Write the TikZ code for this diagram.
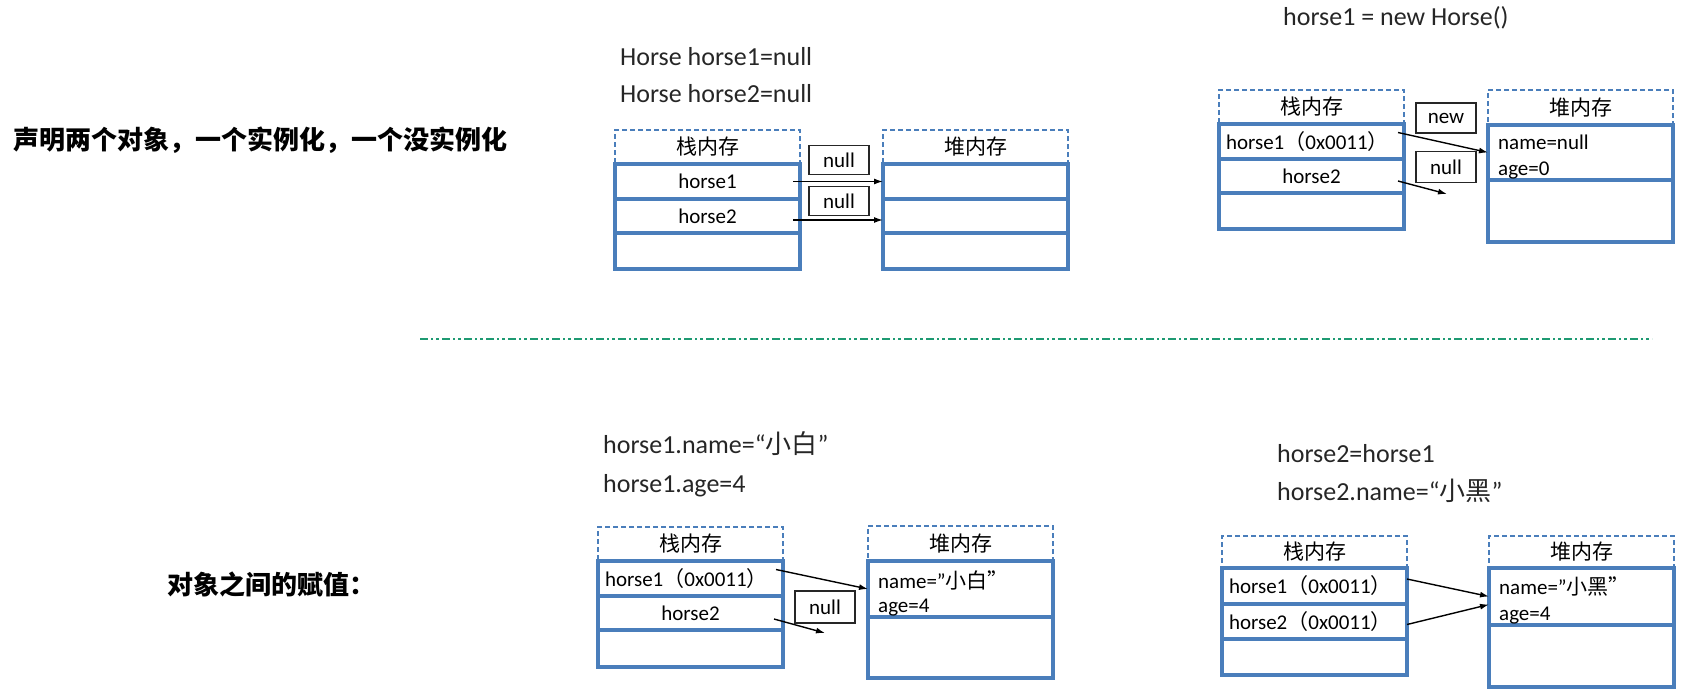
\documentclass[tikz,border=0pt]{standalone}
\usepackage{fontspec}
\setmainfont{Carlito}
\newfontfamily\cjk{Noto Sans CJK SC}
\usetikzlibrary{positioning,arrows.meta}

\definecolor{boxblue}{HTML}{4A7EBB}
\definecolor{sepgreen}{HTML}{1E9A72}

\tikzset{
  memhead/.style={draw=boxblue, dash pattern=on 5pt off 3pt, line width=1.6pt,
    anchor=north west, inner sep=0pt, outer sep=0pt,
    minimum width=185pt, minimum height=34pt, font=\cjk\fontsize{21}{21}\selectfont},
  memcell/.style={draw=boxblue, line width=3.1pt, inner sep=0pt, outer sep=0pt,
    minimum width=185pt, minimum height=35pt, font=\fontsize{21}{21}\selectfont},
  memcellL/.style={memcell, align=left, text width=171pt, inner xsep=7pt},
  tagbox/.style={draw=black!85, line width=1.4pt, inner sep=0pt,
    minimum width=60pt, minimum height=29pt, font=\fontsize{21}{21}\selectfont},
  ref/.style={-{Latex[length=9pt,width=6pt]}, line width=1.4pt, black},
  code/.style={anchor=base west, inner sep=0pt, font=\fontsize{26}{26}\selectfont, text=black!85},
  field/.style={anchor=base west, inner sep=0pt, font=\fontsize{21}{21}\selectfont},
  title/.style={anchor=west, inner sep=0pt, font=\cjk\bfseries\fontsize{26}{26}\selectfont}
}

\begin{document}
\begin{tikzpicture}[x=1pt,y=-1pt]
\useasboundingbox (0,0) rectangle (1682,694);

% Row titles
\node[title] (titleA) at (13,140) {声明两个对象，一个实例化，一个没实例化};
\node[title] (titleB) at (167,584) {对象之间的赋值：};

% Separator
\draw[sepgreen, line width=1.6pt, dash pattern=on 8pt off 3pt on 2pt off 3pt on 3pt off 3pt]
  (420,339) -- (1652,339);

% ---- Panel A: declaration ----
\node[code] (codeA1) at (620,65) {Horse horse1=null};
\node[code] (codeA2) at (620,102) {Horse horse2=null};

\node[memhead] (stkAh) at (615,130) {栈内存};
\node[memcell, below=0pt of stkAh] (stkA1) {horse1};
\node[memcell, below=0pt of stkA1, minimum height=34pt] (stkA2) {horse2};
\node[memcell, below=0pt of stkA2, minimum height=36pt] (stkA3) {};

\node[memhead] (hpAh) at (883,130) {堆内存};
\node[memcell, below=0pt of hpAh] (hpA1) {};
\node[memcell, below=0pt of hpA1, minimum height=34pt] (hpA2) {};
\node[memcell, below=0pt of hpA2, minimum height=36pt] (hpA3) {};

\node[tagbox] (tagA1) at (839,160) {null};
\node[tagbox] (tagA2) at (839,201) {null};

\draw[ref] ([xshift=-7pt]stkA1.east) -- (stkA1.east -| hpA1.west);
\draw[ref] ([xshift=-7pt,yshift=-4pt]stkA2.east) -- ([yshift=-4pt]stkA2.east -| hpA2.west);

% ---- Panel B: instantiation ----
\node[code] (codeB1) at (1283,25) {horse1 = new Horse()};

\node[memhead] (stkBh) at (1219,90) {栈内存};
\node[memcellL, below=0pt of stkBh] (stkB1) {horse1{\cjk （}0x0011{\cjk ）}};
\node[memcell, below=0pt of stkB1, minimum height=34pt] (stkB2) {horse2};
\node[memcell, below=0pt of stkB2, minimum height=36pt] (stkB3) {};

\node[memhead, minimum height=35pt] (hpBh) at (1488,90) {堆内存};
\node[memcell, below=0pt of hpBh, minimum height=55pt] (hpB1) {};
\node[memcell, below=0pt of hpB1, minimum height=62pt] (hpB2) {};
\node[field] (hpBname) at ([xshift=10pt,yshift=-24pt]hpB1.north west) {name=null};
\node[field] (hpBage) at ([xshift=10pt,yshift=-50pt]hpB1.north west) {age=0};

\node[tagbox, minimum height=30pt] (tagB1) at (1446,118) {new};
\node[tagbox, minimum height=31pt] (tagB2) at (1446,167) {null};

\coordinate (freeB) at (1447,194);
\draw[ref] ([xshift=-6pt,yshift=9pt]stkB1.east) -- (hpB1.west);
\draw[ref] ([xshift=-6pt,yshift=-5pt]stkB2.east) -- (freeB);

% ---- Panel C: field assignment ----
\node[code] (codeC1) at (603,453) {horse1.name=“{\cjk 小白}”};
\node[code] (codeC2) at (603,492) {horse1.age=4};

\node[memhead] (stkCh) at (598,527) {栈内存};
\node[memcellL, below=0pt of stkCh] (stkC1) {horse1{\cjk （}0x0011{\cjk ）}};
\node[memcell, below=0pt of stkC1, minimum height=34pt] (stkC2) {horse2};
\node[memcell, below=0pt of stkC2, minimum height=37pt] (stkC3) {};

\node[memhead, minimum height=35pt] (hpCh) at (868,526) {堆内存};
\node[memcell, below=0pt of hpCh, minimum height=56pt] (hpC1) {};
\node[memcell, below=0pt of hpC1, minimum height=61pt] (hpC2) {};
\node[field] (hpCname) at ([xshift=10pt,yshift=-27pt]hpC1.north west) {name=”{\cjk 小白”}};
\node[field] (hpCage) at ([xshift=10pt,yshift=-51pt]hpC1.north west) {age=4};

\node[tagbox, minimum height=32pt] (tagC1) at (825,607) {null};

\coordinate (freeC) at (825,633);
\draw[ref] ([xshift=-7pt,yshift=9pt]stkC1.east) -- (hpC1.west);
\draw[ref] ([xshift=-9pt,yshift=-6pt]stkC2.east) -- (freeC);

% ---- Panel D: reference copy ----
\node[code] (codeD1) at (1277,462) {horse2=horse1};
\node[code] (codeD2) at (1277,500) {horse2.name=“{\cjk 小黑}”};

\node[memhead, minimum height=32pt] (stkDh) at (1222,536) {栈内存};
\node[memcellL, below=0pt of stkDh, minimum height=36pt] (stkD1) {horse1{\cjk （}0x0011{\cjk ）}};
\node[memcellL, below=0pt of stkD1] (stkD2) {horse2{\cjk （}0x0011{\cjk ）}};
\node[memcell, below=0pt of stkD2, minimum height=36pt] (stkD3) {};

\node[memhead, minimum height=32pt] (hpDh) at (1489,536) {堆内存};
\node[memcell, below=0pt of hpDh, minimum height=57pt] (hpD1) {};
\node[memcell, below=0pt of hpD1, minimum height=62pt] (hpD2) {};
\node[field] (hpDname) at ([xshift=10pt,yshift=-26pt]hpD1.north west) {name=”{\cjk 小黑”}};
\node[field] (hpDage) at ([xshift=10pt,yshift=-52pt]hpD1.north west) {age=4};

\draw[ref] ([yshift=7pt]stkD1.east) -- (hpD1.west);
\draw[ref] ([yshift=-3pt]stkD2.east) -- ([yshift=-8pt]hpD1.west);

\end{tikzpicture}
\end{document}
